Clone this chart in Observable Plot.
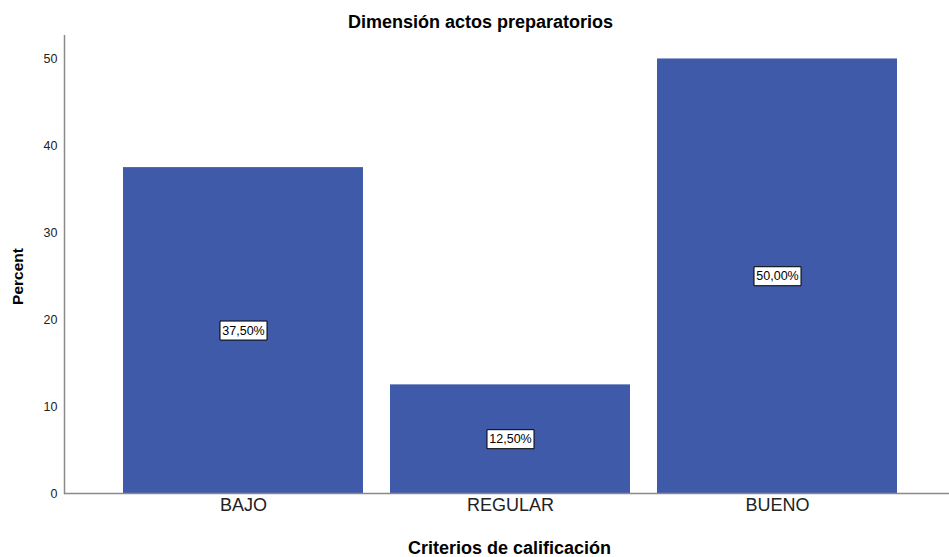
<!DOCTYPE html>
<html>
<head>
<meta charset="utf-8">
<script src="https://cdn.jsdelivr.net/npm/d3@7"></script>
<script src="https://cdn.jsdelivr.net/npm/@observablehq/plot@0.6"></script>
<style>
  body { margin: 0; background: #fff; font-family: "Liberation Sans", Arial, sans-serif; }
  #chart { width: 949px; }
  .title { box-sizing: border-box; height: 35px; padding-top: 12px; padding-left: 12px; line-height: 20px;
           text-align: center; font-weight: bold; font-size: 18px; color: #000; }
  .xlabel { box-sizing: border-box; height: 27px; padding-top: 8px; padding-left: 70px; line-height: 20px;
            text-align: center; font-weight: bold; font-size: 18px; color: #000; }
</style>
</head>
<body>
<div id="chart"></div>
<script>
const categories = ["BAJO", "REGULAR", "BUENO"];
const percents = [37.5, 12.5, 50.0];
const yTicks = [0, 10, 20, 30, 40, 50];
const titleText = "Dimensión actos preparatorios";
const xLabel = "Criterios de calificación";
const yLabel = "Percent";

const data = categories.map((c, i) => ({cat: c, pct: percents[i]}));
const fmt = v => v.toFixed(2).replace(".", ",") + "%";

const boxSymbol = {
  draw(context) {
    context.moveTo(-23.5, -9.5);
    context.lineTo(23.5, -9.5);
    context.lineTo(23.5, 9.5);
    context.lineTo(-23.5, 9.5);
    context.closePath();
  }
};

const axisColor = "#8a8a8a";

const plot = Plot.plot({
  width: 949,
  height: 495,
  marginTop: 0,
  marginBottom: 37,
  marginLeft: 64,
  marginRight: 0,
  style: { fontFamily: "'Liberation Sans', Arial, sans-serif", background: "white", color: "black" },
  x: { domain: categories, range: [122, 899], paddingInner: 0.1, paddingOuter: 0, axis: null },
  y: { domain: [0, 52.7], axis: null },
  marks: [
    Plot.barY(data, { x: "cat", y: "pct", fill: "#3e5aa8" }),
    Plot.frame({ anchor: "left", stroke: axisColor, strokeWidth: 1.5 }),
    Plot.ruleY([0], { stroke: axisColor, strokeWidth: 1.5 }),
    Plot.text(yTicks, { y: d => d, text: d => String(d), frameAnchor: "left", dx: -7, textAnchor: "end", fontSize: 12.5, fill: "#222" }),
    Plot.text(categories, { x: d => d, text: d => d, frameAnchor: "bottom", dy: 17, fontSize: 18, fill: "#222" }),
    Plot.text([yLabel], { text: d => d, frameAnchor: "left", textAnchor: "middle", dx: -46, dy: 12, rotate: -90, fontSize: 15.5, fontWeight: "bold", fill: "#000" }),
    Plot.dot(data, { x: "cat", y: d => d.pct / 2, symbol: boxSymbol, fill: "white", stroke: "black", strokeWidth: 1 }),
    Plot.text(data, { x: "cat", y: d => d.pct / 2, text: d => fmt(d.pct), fontSize: 12.5, fill: "#000" })
  ]
});

const chart = document.getElementById("chart");
const t = document.createElement("div");
t.className = "title";
t.textContent = titleText;
chart.appendChild(t);
chart.appendChild(plot);
const xl = document.createElement("div");
xl.className = "xlabel";
xl.textContent = xLabel;
chart.appendChild(xl);
</script>
</body>
</html>
